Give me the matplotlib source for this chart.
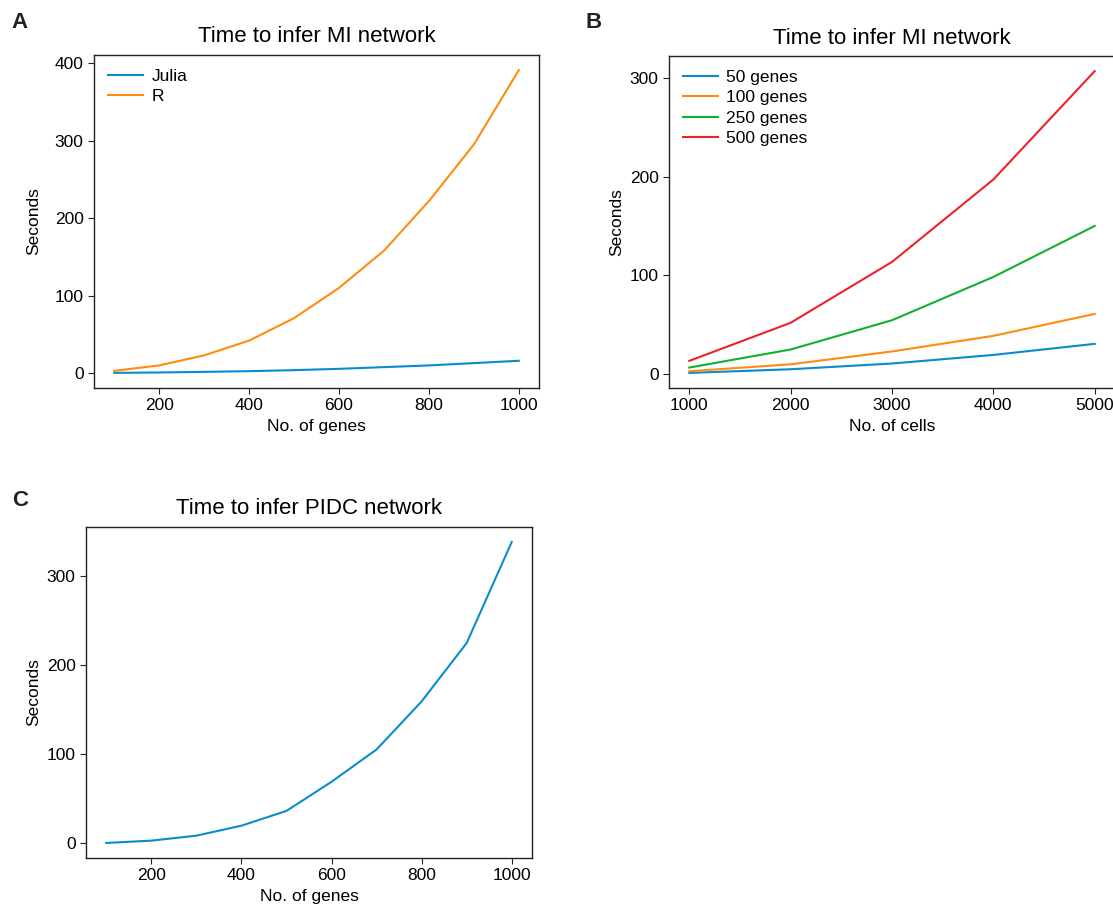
import matplotlib
matplotlib.use("Agg")
import matplotlib.pyplot as plt

plt.rcParams['font.family'] = ['Liberation Sans', 'DejaVu Sans']

# Panel A data
genes_a = [100, 200, 300, 400, 500, 600, 700, 800, 900, 1000]
julia_a = [0.4, 0.9, 1.7, 2.6, 3.9, 5.6, 7.8, 10, 13, 16]
r_a = [3, 10, 23, 42, 71, 110, 158, 222, 295, 391]

# Panel B data
cells_b = [1000, 2000, 3000, 4000, 5000]
g50 = [1.3, 5, 10.8, 19.5, 30.7]
g100 = [3, 10, 23, 38.8, 61]
g250 = [6.7, 25, 54.6, 98.4, 150]
g500 = [13.5, 52, 113.6, 197, 306.7]
labels_b = ["50 genes", "100 genes", "250 genes", "500 genes"]

# Panel C data
genes_c = [100, 200, 300, 400, 500, 600, 700, 800, 900, 1000]
pidc_c = [0, 2.6, 8.2, 19.4, 36, 68.7, 105, 159, 224.6, 338]

BLUE = "#0a8ccc"
ORANGE = "#ff8c10"
GREEN = "#10b030"
RED = "#f0202a"

W, H = 1113, 907
fig = plt.figure(figsize=(W / 100, H / 100), dpi=100)

def ax_at(l, r, t, b):
    return fig.add_axes([l / W, 1 - b / H, (r - l) / W, (b - t) / H])

def style(ax):
    for s in ax.spines.values():
        s.set_color("#222222")
        s.set_linewidth(1.0)
    ax.tick_params(labelsize=12.5, length=4, color="#222222")

lw = 1.5
leg_kw = dict(loc="upper left", frameon=False, fontsize=12.5, handlelength=2.0,
              borderaxespad=0.4, labelspacing=0.3, handletextpad=0.5)

axA = ax_at(94, 539, 55, 388)
axA.plot(genes_a, julia_a, color=BLUE, lw=lw, label="Julia")
axA.plot(genes_a, r_a, color=ORANGE, lw=lw, label="R")
axA.set_title("Time to infer MI network", fontsize=16, pad=9)
axA.set_xlabel("No. of genes", fontsize=12.5)
axA.set_ylabel("Seconds", fontsize=12.5, labelpad=10)
axA.set_xticks([200, 400, 600, 800, 1000])
axA.set_yticks([0, 100, 200, 300, 400])
axA.legend(**leg_kw)
style(axA)

axB = ax_at(669, 1115, 56, 388)
for vals, c, lab in zip([g50, g100, g250, g500], [BLUE, ORANGE, GREEN, RED], labels_b):
    axB.plot(cells_b, vals, color=c, lw=lw, label=lab)
axB.set_title("Time to infer MI network", fontsize=16, pad=9)
axB.set_xlabel("No. of cells", fontsize=12.5)
axB.set_ylabel("Seconds", fontsize=12.5)
axB.set_xticks(cells_b)
axB.set_yticks([0, 100, 200, 300])
axB.legend(**leg_kw)
style(axB)

axC = ax_at(86, 532, 527, 858)
axC.plot(genes_c, pidc_c, color=BLUE, lw=lw)
axC.set_title("Time to infer PIDC network", fontsize=16, pad=9)
axC.set_xlabel("No. of genes", fontsize=12.5)
axC.set_ylabel("Seconds", fontsize=12.5)
axC.set_xticks([200, 400, 600, 800, 1000])
axC.set_yticks([0, 100, 200, 300])
style(axC)

for letter, x, y in [("A", 20, 22), ("B", 594, 22), ("C", 20, 500)]:
    fig.text(x / W, 1 - y / H, letter, fontsize=16, fontweight="bold",
             ha="center", va="center", color="#222222")

fig.savefig("out.png", dpi=100)
